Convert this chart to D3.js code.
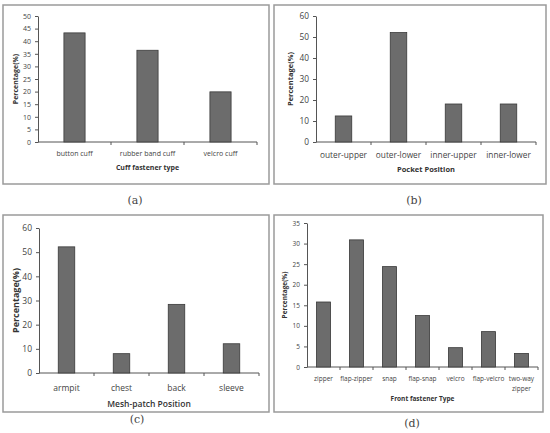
<!DOCTYPE html>
<html>
<head>
<meta charset="utf-8">
<script src="https://d3js.org/d3.v7.min.js"></script>
<style>
    body { margin: 0; background: #fff; }
    .frame { fill: #fff; stroke: #9a9a9a; stroke-width: 1.5px; }
    .bar { fill: #6c6c6c; stroke: #3a3a3a; stroke-width: 0.8px; }
    .axis path, .axis line { stroke: #555; stroke-width: 1px; fill: none; }
    .axis text { fill: #444; font-family: "Open Sans", "Liberation Sans", sans-serif; }
    .title { fill: #333; font-family: "Open Sans", "Liberation Sans", sans-serif; font-weight: bold; text-anchor: middle; }
    .cap { fill: #444; font-family: "DejaVu Serif", "Liberation Serif", serif; font-size: 11px; text-anchor: middle; }
</style>
</head>
<body>
<svg id="chart" width="550" height="433"></svg>
<script>
    // (a) cuff fastener type
    const cuffTypes = ["button cuff", "rubber band cuff", "velcro cuff"];
    const cuffValues = [43.3, 36.4, 19.9];
    const cuffTicks = [0, 5, 10, 15, 20, 25, 30, 35, 40, 45, 50];
    // (b) pocket position
    const pocketPositions = ["outer-upper", "outer-lower", "inner-upper", "inner-lower"];
    const pocketValues = [12.4, 52.1, 18.1, 18.1];
    const pocketTicks = [0, 10, 20, 30, 40, 50, 60];
    // (c) mesh-patch position
    const meshPositions = ["armpit", "chest", "back", "sleeve"];
    const meshValues = [52.2, 8.0, 28.4, 12.1];
    const meshTicks = [0, 10, 20, 30, 40, 50, 60];
    // (d) front fastener type
    const frontTypes = ["zipper", "flap-zipper", "snap", "flap-snap", "velcro", "flap-velcro", "two-way zipper"];
    const frontValues = [15.8, 30.9, 24.4, 12.5, 4.7, 8.6, 3.3];
    const frontTicks = [0, 5, 10, 15, 20, 25, 30, 35];

    const svg = d3.select("#chart");

    const panels = [
        { cats: cuffTypes, vals: cuffValues, ticks: cuffTicks, title: "Cuff fastener type", cap: "(a)",
          box: [3, 5, 269, 184], x: [38, 257], y: [142, 16], fs: 7, tfs: 7, yfs: 7, tw: "bold", yl: 16, catY: 154, titleY: 168, bw: 0.71, capPos: [135, 204] },
        { cats: pocketPositions, vals: pocketValues, ticks: pocketTicks, title: "Pocket Position", cap: "(b)",
          box: [274, 5, 546, 184], x: [316, 536], y: [142, 16], fs: 8.3, tfs: 7.5, yfs: 7.5, tw: "bold", yl: 290, catY: 155, titleY: 169, bw: 0.7, capPos: [414, 204] },
        { cats: meshPositions, vals: meshValues, ticks: meshTicks, title: "Mesh-patch Position", cap: "(c)",
          box: [3, 215, 269, 412], x: [39, 259], y: [373, 228], fs: 8.5, tfs: 8.5, yfs: 9, tw: "600", yl: 16, catY: 388, titleY: 404, bw: 0.7, capPos: [137, 423] },
        { cats: frontTypes, vals: frontValues, ticks: frontTicks, title: "Front fastener Type", cap: "(d)",
          box: [274, 215, 543, 412], x: [307, 538], y: [367, 223], fs: 6.5, tfs: 6.5, yfs: 6.5, tw: "bold", yl: 285, catY: 379, titleY: 399, bw: 0.57, capPos: [412, 427] }
    ];

    panels.forEach(p => {
        svg.append("rect").attr("class", "frame")
            .attr("x", p.box[0]).attr("y", p.box[1])
            .attr("width", p.box[2] - p.box[0]).attr("height", p.box[3] - p.box[1]);

        const x = d3.scaleBand().domain(p.cats).range(p.x)
            .paddingInner(p.bw).paddingOuter(p.bw / 2);
        const y = d3.scaleLinear().domain([0, d3.max(p.ticks)]).range(p.y);
        const step = x.step();

        // y axis
        const ya = svg.append("g").attr("class", "axis")
            .attr("transform", `translate(${p.x[0]},0)`)
            .call(d3.axisLeft(y).tickValues(p.ticks).tickSize(3).tickSizeOuter(0).tickPadding(4));
        ya.selectAll("text").style("font-size", p.fs + "px");

        // x axis: ticks sit between categories
        const xa = svg.append("g").attr("class", "axis")
            .attr("transform", `translate(0,${p.y[0]})`);
        xa.append("line").attr("x1", p.x[0]).attr("x2", p.x[1]).attr("y1", 0).attr("y2", 0);
        xa.selectAll(".sep").data(p.cats).enter().append("line")
            .attr("x1", d => x(d) - (step - x.bandwidth()) / 2 + step)
            .attr("x2", d => x(d) - (step - x.bandwidth()) / 2 + step)
            .attr("y1", 0).attr("y2", 3);
        xa.selectAll(".lab").data(p.cats).enter().append("text")
            .attr("text-anchor", "middle")
            .style("font-size", p.fs + "px")
            .attr("x", d => x(d) + x.bandwidth() / 2)
            .attr("y", p.catY - p.y[0] + p.fs * 0.35)
            .each(function (d) {
                const words = (d === "two-way zipper") ? ["two-way", "zipper"] : [d];
                const t = d3.select(this);
                words.forEach((w, i) => {
                    t.append("tspan").attr("x", x(d) + x.bandwidth() / 2)
                        .attr("dy", i === 0 ? 0 : p.fs * 1.5).text(w);
                });
            });

        // bars
        svg.selectAll(null).data(p.cats).enter().append("rect")
            .attr("class", "bar")
            .attr("x", d => x(d))
            .attr("width", x.bandwidth())
            .attr("y", (d, i) => y(p.vals[i]))
            .attr("height", (d, i) => y(0) - y(p.vals[i]));

        // titles
        svg.append("text").attr("class", "title")
            .style("font-size", p.tfs + "px")
            .style("font-weight", p.tw)
            .attr("x", (p.x[0] + p.x[1]) / 2).attr("y", p.titleY + p.tfs * 0.35)
            .text(p.title);
        svg.append("text").attr("class", "title")
            .style("font-size", p.yfs + "px")
            .attr("transform", `translate(${p.yl + p.yfs * 0.35},${(p.y[0] + p.y[1]) / 2}) rotate(-90)`)
            .text("Percentage(%)");

        svg.append("text").attr("class", "cap")
            .attr("x", p.capPos[0]).attr("y", p.capPos[1])
            .text(p.cap);
    });
</script>
</body>
</html>
